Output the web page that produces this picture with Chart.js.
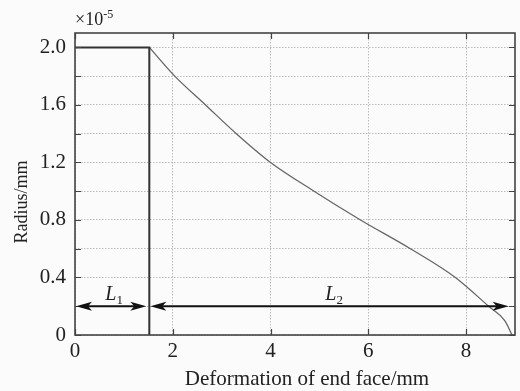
<!DOCTYPE html>
<html>
<head>
<meta charset="utf-8">
<script src="https://cdn.jsdelivr.net/npm/chart.js@4.4.1/dist/chart.umd.min.js"></script>
<style>
  html, body { margin: 0; padding: 0; background: #fbfbfb; }
  #wrap { width: 520px; height: 391px; }
</style>
</head>
<body>
<div id="wrap"><canvas id="c" width="520" height="391"></canvas></div>
<script>
// Radius of the end face (×1e-5 mm) along the deformation (mm)
const deformation = [1.52, 2.04, 2.67, 3.30, 4.0, 4.89, 5.84, 6.86, 7.78, 8.46, 8.79, 8.94];
const radius      = [2.0,  1.8,  1.6,  1.4,  1.2, 1.0,  0.8,  0.6,  0.4,  0.2,  0.1,  0.0];

// First stage: constant radius, then the step down at the end of L1
const stageX = [0, 1.52, 1.52];
const stageY = [2.0, 2.0, 0];

// Axis ticks
const xTicks = [0, 2, 4, 6, 8];
const yTicks = [0, 0.2, 0.4, 0.6, 0.8, 1.0, 1.2, 1.4, 1.6, 1.8, 2.0];
const yLabels = ['0', '', '0.4', '', '0.8', '', '1.2', '', '1.6', '', '2.0'];

// Span markers L1 and L2 (start, end) at the marker level
const spanNames = ['L1', 'L2'];
const spanStart = [0, 1.52];
const spanEnd   = [1.52, 8.87];
const spanLevel = 0.2;
const spanLabelX = [0.8, 5.3];
const spanLabelY = [0.29, 0.29];

const SERIF = "'Liberation Serif', 'Times New Roman', serif";
const INK = '#222';

const framePlugin = {
  id: 'frame',
  afterDraw(chart) {
    const { ctx, chartArea: a, scales: { x, y } } = chart;
    ctx.save();
    // inward tick marks on all four sides
    ctx.strokeStyle = '#444';
    ctx.lineWidth = 1.2;
    ctx.beginPath();
    yTicks.forEach(v => {
      const py = Math.round(y.getPixelForValue(v)) + 0.5;
      ctx.moveTo(a.left, py); ctx.lineTo(a.left + 6, py);
      ctx.moveTo(a.right, py); ctx.lineTo(a.right - 6, py);
    });
    xTicks.forEach(v => {
      const px = Math.round(x.getPixelForValue(v)) + 0.5;
      ctx.moveTo(px, a.bottom); ctx.lineTo(px, a.bottom - 6);
      ctx.moveTo(px, a.top); ctx.lineTo(px, a.top + 6);
    });
    ctx.stroke();

    // frame
    ctx.strokeStyle = '#444';
    ctx.lineWidth = 1.6;
    ctx.strokeRect(a.left, a.top, a.right - a.left, a.bottom - a.top);

    // span arrows
    ctx.strokeStyle = '#111';
    ctx.fillStyle = '#111';
    ctx.lineWidth = 2;
    const head = (tipX, py, dir) => {
      ctx.beginPath();
      ctx.moveTo(tipX, py);
      ctx.lineTo(tipX - dir * 16, py - 4.5);
      ctx.lineTo(tipX - dir * 12, py);
      ctx.lineTo(tipX - dir * 16, py + 4.5);
      ctx.closePath();
      ctx.fill();
    };
    const py = y.getPixelForValue(spanLevel);
    spanStart.forEach((s, i) => {
      const x0 = x.getPixelForValue(s) + 1;
      const x1 = x.getPixelForValue(spanEnd[i]) - (i === 0 ? 3 : 0);
      ctx.beginPath();
      ctx.moveTo(x0 + 10, py); ctx.lineTo(x1 - 10, py);
      ctx.stroke();
      head(x0, py, -1);
      head(x1, py, 1);
    });

    // span labels: italic L with a subscript index
    ctx.textBaseline = 'alphabetic';
    spanNames.forEach((name, i) => {
      const cx = x.getPixelForValue(spanLabelX[i]);
      const cy = y.getPixelForValue(spanLabelY[i]) + 7;
      ctx.font = 'italic 20px ' + SERIF;
      const wL = ctx.measureText(name[0]).width;
      ctx.font = '13px ' + SERIF;
      const wS = ctx.measureText(name.slice(1)).width;
      const start = cx - (wL + wS) / 2;
      ctx.fillStyle = INK;
      ctx.font = 'italic 20px ' + SERIF;
      ctx.textAlign = 'left';
      ctx.fillText(name[0], start, cy);
      ctx.font = '13px ' + SERIF;
      ctx.fillText(name.slice(1), start + wL, cy + 4);
    });

    // exponent marker above the value axis
    ctx.fillStyle = INK;
    ctx.textAlign = 'left';
    ctx.font = '18px ' + SERIF;
    ctx.fillText('×10', a.left, a.top - 8);
    const w = ctx.measureText('×10').width;
    ctx.font = '12px ' + SERIF;
    ctx.fillText('-5', a.left + w, a.top - 15);

    // axis titles
    ctx.font = '21px ' + SERIF;
    ctx.textAlign = 'center';
    ctx.textBaseline = 'middle';
    ctx.fillText('Deformation of end face/mm', (a.left + a.right) / 2 + 12, 379);
    ctx.save();
    ctx.translate(22, (a.top + a.bottom) / 2 + 18);
    ctx.rotate(-Math.PI / 2);
    ctx.font = '18px ' + SERIF;
    ctx.fillText('Radius/mm', 0, 0);
    ctx.restore();
    ctx.restore();
  }
};

new Chart(document.getElementById('c'), {
  type: 'scatter',
  data: {
    datasets: [
      {
        data: stageX.map((v, i) => ({ x: v, y: stageY[i] })),
        showLine: true,
        borderColor: '#333',
        borderWidth: 2,
        pointRadius: 0,
        tension: 0
      },
      {
        data: deformation.map((v, i) => ({ x: v, y: radius[i] })),
        showLine: true,
        borderColor: '#666',
        borderWidth: 1.3,
        pointRadius: 0,
        cubicInterpolationMode: 'monotone'
      }
    ]
  },
  options: {
    responsive: false,
    devicePixelRatio: 1,
    animation: false,
    layout: { padding: { top: 33, right: 5, left: 0, bottom: 0 } },
    plugins: { legend: { display: false }, tooltip: { enabled: false } },
    scales: {
      x: {
        type: 'linear',
        min: 0, max: 9,
        afterBuildTicks: s => { s.ticks = xTicks.map(v => ({ value: v })); },
        afterFit: s => { s.height = 56; },
        ticks: { font: { family: SERIF, size: 21 }, color: INK, padding: 4, maxRotation: 0 },
        grid: { color: '#bdbdbd', lineWidth: 1, drawTicks: false },
        border: { display: false, dash: [1.5, 1.5] }
      },
      y: {
        type: 'linear',
        min: 0, max: 2.1,
        afterBuildTicks: s => { s.ticks = yTicks.map(v => ({ value: v })); },
        afterFit: s => { s.width = 75; },
        ticks: {
          font: { family: SERIF, size: 21 }, color: INK, padding: 9,
          callback: (v, i) => yLabels[i]
        },
        grid: { color: '#bdbdbd', lineWidth: 1, drawTicks: false },
        border: { display: false, dash: [1.5, 1.5] }
      }
    }
  },
  plugins: [framePlugin]
});
</script>
</body>
</html>
